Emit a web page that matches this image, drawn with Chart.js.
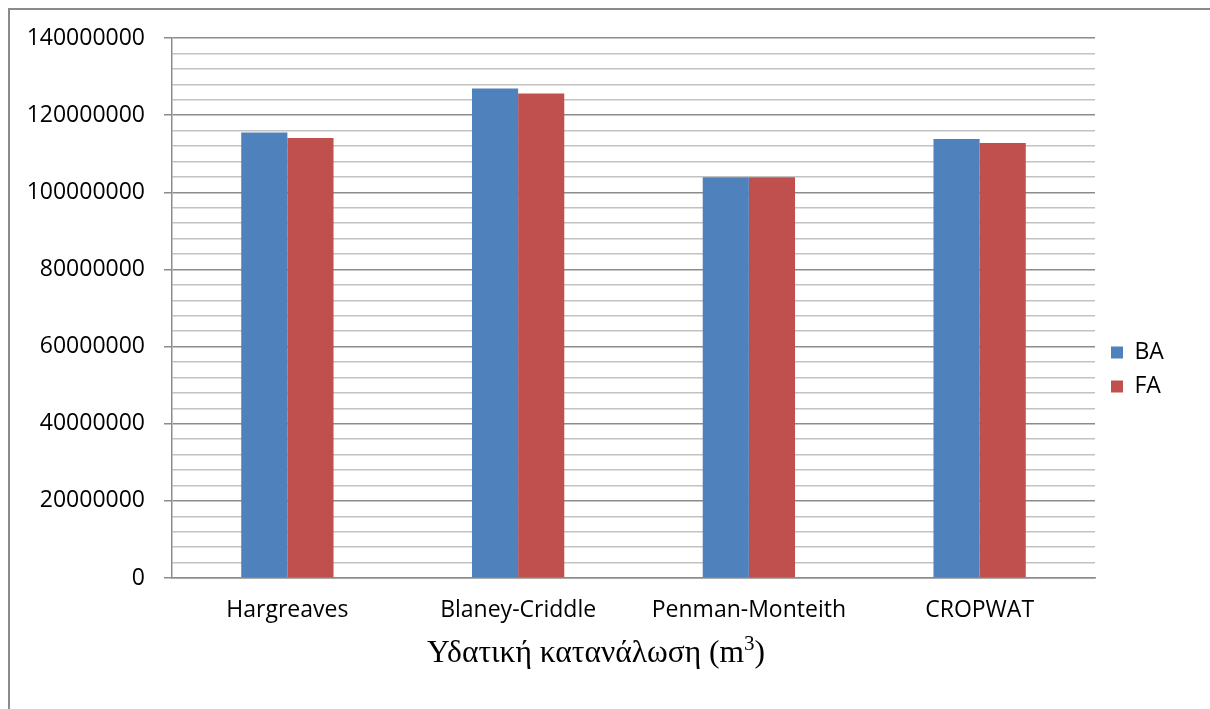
<!DOCTYPE html>
<html>
<head>
<meta charset="utf-8">
<script src="https://cdn.jsdelivr.net/npm/chart.js@4/dist/chart.umd.min.js"></script>
<style>
  html, body { margin: 0; padding: 0; background: #fff; overflow: hidden; }
  #wrap { position: relative; width: 1210px; height: 709px; overflow: hidden; }
  #frame { position: absolute; left: 8px; top: 8px; width: 1300px; height: 800px;
           border: 2px solid #8a8a8a; box-sizing: border-box; }
  #chart { position: absolute; left: 0; top: 0; }
</style>
</head>
<body>
<div id="wrap">
  <div id="frame"></div>
  <canvas id="chart" width="1210" height="709"></canvas>
</div>
<script>
// Water consumption per estimation method
const categories = ['Hargreaves', 'Blaney-Criddle', 'Penman-Monteith', 'CROPWAT'];
const seriesNames = ['BA', 'FA'];
const valuesBA = [115500000, 126900000, 103900000, 113800000];
const valuesFA = [114100000, 125600000, 103900000, 112800000];
const seriesColors = ['#4F81BD', '#C0504D'];

// Value axis: labelled every 20 000 000, light minor lines every 4 000 000
const yMin = 0;
const yMax = 140000000;
const yMajorStep = 20000000;
const yMinorStep = 4000000;

const axisTitle = 'Υδατική κατανάλωση (m';
const axisTitleSup = '3';
const axisTitleEnd = ')';

const labelFont = { family: 'Open Sans', size: 23 };
const majorColor = '#8c8c8c';
const minorColor = '#c2c2c2';

const isMajor = v => Math.round(v) % yMajorStep === 0;

// Caption under the category labels, with a raised exponent
const captionPlugin = {
  id: 'caption',
  afterDraw(chart) {
    const ctx = chart.ctx;
    ctx.save();
    ctx.fillStyle = '#000';
    ctx.textBaseline = 'alphabetic';
    const mainFont = '31.5px "Liberation Serif"';
    const supFont = '21px "Liberation Serif"';
    ctx.font = mainFont;
    const w1 = ctx.measureText(axisTitle).width;
    const w3 = ctx.measureText(axisTitleEnd).width;
    ctx.font = supFont;
    const w2 = ctx.measureText(axisTitleSup).width;
    const total = w1 + w2 + w3;
    const cx = 596, baseY = 662;
    let x = cx - total / 2;
    ctx.font = mainFont;
    ctx.fillText(axisTitle, x, baseY);
    x += w1;
    ctx.font = supFont;
    ctx.fillText(axisTitleSup, x, baseY - 12);
    x += w2;
    ctx.font = mainFont;
    ctx.fillText(axisTitleEnd, x, baseY);
    ctx.restore();
  }
};

// Legend column on the right: fixed width, nudged into place
const legendPlacePlugin = {
  id: 'legendPlace',
  beforeLayout(chart) {
    const lg = chart.legend;
    if (lg && !lg._fixedFit) {
      const orig = lg.fit;
      lg.fit = function () { orig.call(this); this.width = 115; };
      lg._fixedFit = true;
    }
  },
  afterLayout(chart) {
    const lg = chart.legend;
    if (!lg) return;
    lg.left += 5; lg.right += 5;
    lg.top -= 4; lg.bottom -= 4;
  }
};

new Chart(document.getElementById('chart'), {
  type: 'bar',
  data: {
    labels: categories,
    datasets: [
      { label: seriesNames[0], data: valuesBA, backgroundColor: seriesColors[0] },
      { label: seriesNames[1], data: valuesFA, backgroundColor: seriesColors[1] }
    ]
  },
  options: {
    responsive: false,
    animation: false,
    devicePixelRatio: 1,
    layout: { padding: { top: 38, left: 0, right: 0, bottom: 0 } },
    datasets: { bar: { categoryPercentage: 0.4, barPercentage: 1.0 } },
    plugins: {
      title: { display: false },
      tooltip: { enabled: false },
      legend: {
        position: 'right',
        align: 'center',
        labels: {
          boxWidth: 12,
          boxHeight: 12,
          padding: 11,
          color: '#000',
          font: labelFont
        }
      }
    },
    scales: {
      x: {
        grid: { display: false, drawTicks: false },
        border: { display: true, color: majorColor, width: 1.5 },
        ticks: { color: '#000', font: labelFont, padding: 19, maxRotation: 0 },
        afterFit(scale) { scale.height = 131; }
      },
      y: {
        min: yMin,
        max: yMax,
        border: { display: true, color: majorColor, width: 1.5 },
        grid: {
          color: ctx => isMajor(ctx.tick.value) ? majorColor : minorColor,
          tickColor: ctx => isMajor(ctx.tick.value) ? majorColor : 'rgba(0,0,0,0)',
          lineWidth: 1.5,
          tickLength: 8
        },
        ticks: {
          stepSize: yMinorStep,
          autoSkip: false,
          color: '#000',
          font: labelFont,
          padding: 19,
          callback: v => isMajor(v) ? String(Math.round(v)) : ''
        },
        afterFit(scale) { scale.width = 172; }
      }
    }
  },
  plugins: [captionPlugin, legendPlacePlugin]
});
</script>
</body>
</html>
